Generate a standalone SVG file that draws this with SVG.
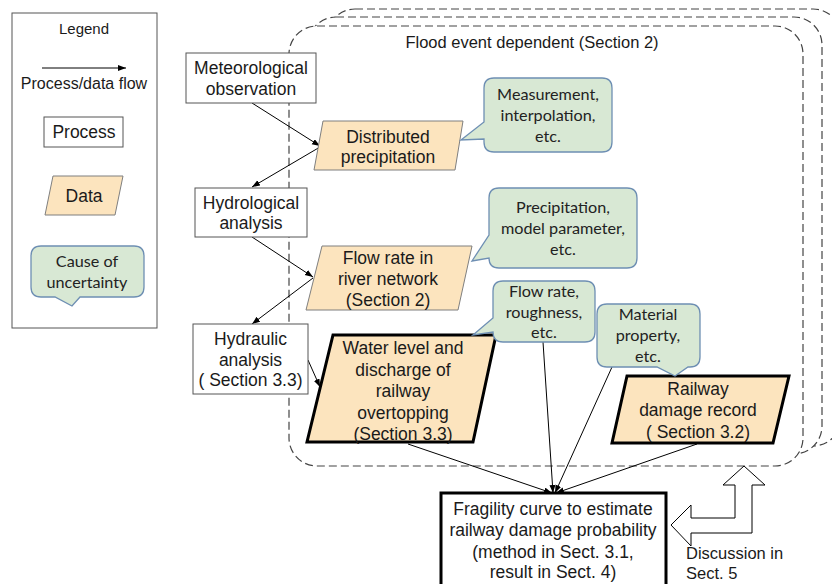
<svg xmlns="http://www.w3.org/2000/svg" width="832" height="584" viewBox="0 0 832 584">
<defs>
<marker id="ah" markerUnits="userSpaceOnUse" markerWidth="9" markerHeight="7" refX="8" refY="3" orient="auto">
<path d="M0,0 L8,3 L0,6 z" fill="#000"/>
</marker>
<style>
.t{font-family:"Liberation Sans",Arial,sans-serif;font-size:17.5px;fill:#1a1a1a;text-anchor:middle}
.ts{font-family:"Liberation Sans",Arial,sans-serif;font-size:15.5px;fill:#1a1a1a;text-anchor:middle}
.c{font-family:Lato,"Open Sans",sans-serif;font-size:16.2px;fill:#222;text-anchor:middle}
.proc{fill:#fff;stroke:#555;stroke-width:1}
.data{fill:#fce4be;stroke:#7f7f7f;stroke-width:1}
.datak{fill:#fce4be;stroke:#000;stroke-width:3;stroke-linejoin:miter}
.call{fill:#d8e8d4;stroke:#6e8fb3;stroke-width:1.3}
.dash{fill:#fff;stroke:#444;stroke-width:1.2;stroke-dasharray:8 4}
.con{stroke:#000;stroke-width:1;fill:none;marker-end:url(#ah)}
</style>
</defs>
<rect width="832" height="584" fill="#fff"/>

<g id="event-frames">
<rect class="dash" x="327" y="9" width="514" height="437" rx="28"/>
<rect class="dash" x="308" y="17" width="514" height="437" rx="28"/>
<rect class="dash" x="289" y="26" width="514" height="440" rx="28"/>
<text class="ts" x="532" y="48" style="font-size:16.5px">Flood event dependent (Section 2)</text>
</g>

<g id="legend">
<rect x="12" y="13" width="145" height="315" fill="#fff" stroke="#555" stroke-width="1"/>
<text class="ts" x="84" y="34" style="font-size:15px">Legend</text>
<line x1="42" y1="68" x2="126" y2="68" class="con"/>
<text class="ts" x="84" y="89" style="font-size:16px">Process/data flow</text>
<rect class="proc" x="44" y="117" width="79" height="30"/>
<text class="t" x="84" y="138">Process</text>
<polygon class="data" points="53,176 123,176 115,215 45,215"/>
<text class="t" x="84" y="202">Data</text>
<path class="call" d="M41,246 H134 Q144,246 144,256 V287 Q144,297 134,297 H80 L72,306 L55,297 H41 Q31,297 31,287 V256 Q31,246 41,246 Z"/>
<text class="c" x="87" y="267">Cause of</text>
<text class="c" x="87" y="288">uncertainty</text>
</g>

<g id="connectors">
<line class="con" x1="252" y1="103" x2="320" y2="146"/>
<line class="con" x1="320" y1="147" x2="252" y2="187"/>
<line class="con" x1="252" y1="237" x2="313" y2="277"/>
<line class="con" x1="313" y1="278" x2="252" y2="324"/>
<line class="con" x1="308" y1="360" x2="320" y2="387"/>
<line class="con" x1="408" y1="444" x2="552" y2="493"/>
<line class="con" x1="543" y1="342" x2="553" y2="493"/>
<line class="con" x1="612" y1="367" x2="555" y2="493"/>
<line class="con" x1="697" y1="444" x2="556" y2="493"/>
</g>

<g id="meteorological-observation">
<rect class="proc" x="186" y="53" width="130" height="50"/>
<text class="t" x="251" y="74">Meteorological</text>
<text class="t" x="251" y="95">observation</text>
</g>

<g id="distributed-precipitation">
<polygon class="data" points="323,121 463,121 455,170 314,170"/>
<text class="t" x="388" y="143">Distributed</text>
<text class="t" x="388" y="163">precipitation</text>
</g>

<g id="hydrological-analysis">
<rect class="proc" x="195" y="188" width="112" height="49"/>
<text class="t" x="251" y="209">Hydrological</text>
<text class="t" x="251" y="229">analysis</text>
</g>

<g id="flow-rate">
<polygon class="data" points="322,246 472,246 458,310 306,310"/>
<text class="t" x="388" y="264">Flow rate in</text>
<text class="t" x="388" y="285">river network</text>
<text class="t" x="388" y="306">(Section 2)</text>
</g>

<g id="hydraulic-analysis">
<rect class="proc" x="193" y="324" width="115" height="70"/>
<text class="t" x="250.5" y="345">Hydraulic</text>
<text class="t" x="250.5" y="366">analysis</text>
<text class="t" x="250.5" y="386">( Section 3.3)</text>
</g>

<g id="water-level">
<polygon class="datak" points="333,335 496,335 473,442 307,442"/>
<text class="t" x="403" y="354">Water level and</text>
<text class="t" x="403" y="376">discharge of</text>
<text class="t" x="403" y="397">railway</text>
<text class="t" x="403" y="419">overtopping</text>
<text class="t" x="403" y="440">(Section 3.3)</text>
</g>

<g id="railway-damage-record">
<polygon class="datak" points="627,376 789,376 773,443 612,443"/>
<text class="t" x="698" y="395">Railway</text>
<text class="t" x="698" y="416">damage record</text>
<text class="t" x="698" y="438">( Section 3.2)</text>
</g>

<g id="callout-measurement">
<path class="call" d="M494,78 H602 Q612,78 612,88 V142 Q612,152 602,152 H494 Q484,152 484,142 V139 L461,140 L484,122 V88 Q484,78 494,78 Z"/>
<text class="c" x="548" y="100">Measurement,</text>
<text class="c" x="548" y="121">interpolation,</text>
<text class="c" x="548" y="142">etc.</text>
</g>

<g id="callout-precipitation">
<path class="call" d="M499,188 H627 Q637,188 637,198 V258 Q637,268 627,268 H499 Q489,268 489,258 L472,261 L489,235 V198 Q489,188 499,188 Z"/>
<text class="c" x="563" y="213">Precipitation,</text>
<text class="c" x="563" y="234">model parameter,</text>
<text class="c" x="563" y="255">etc.</text>
</g>

<g id="callout-flow-roughness">
<path class="call" d="M503,281 H585 Q595,281 595,291 V332 Q595,342 585,342 H503 Q493,342 493,332 L473,335 L493,318 V291 Q493,281 503,281 Z"/>
<text class="c" x="544" y="297">Flow rate,</text>
<text class="c" x="544" y="318">roughness,</text>
<text class="c" x="544" y="338">etc.</text>
</g>

<g id="callout-material">
<path class="call" d="M607,304 H690 Q700,304 700,314 V357 Q700,367 690,367 H688 L675,376 L657,367 H607 Q597,367 597,357 V314 Q597,304 607,304 Z"/>
<text class="c" x="648" y="320">Material</text>
<text class="c" x="648" y="341">property,</text>
<text class="c" x="648" y="362">etc.</text>
</g>

<g id="fragility-curve">
<rect x="441" y="493" width="225" height="100" fill="#fff" stroke="#000" stroke-width="3"/>
<text class="t" x="553" y="515">Fragility curve to estimate</text>
<text class="t" x="553" y="536">railway damage probability</text>
<text class="t" x="553" y="558">(method in  Sect. 3.1,</text>
<text class="t" x="553" y="578">result in Sect. 4)</text>
</g>

<g id="discussion">
<polygon points="671,525 691,505 691,518 735,518 735,485 723,485 744,466 765,485 752,485 752,533 691,533 691,546" fill="#fff" stroke="#000" stroke-width="1"/>
<text class="t" x="686" y="559" style="text-anchor:start;font-size:16.5px">Discussion in</text>
<text class="t" x="686" y="579" style="text-anchor:start;font-size:16.5px">Sect. 5</text>
</g>
</svg>
